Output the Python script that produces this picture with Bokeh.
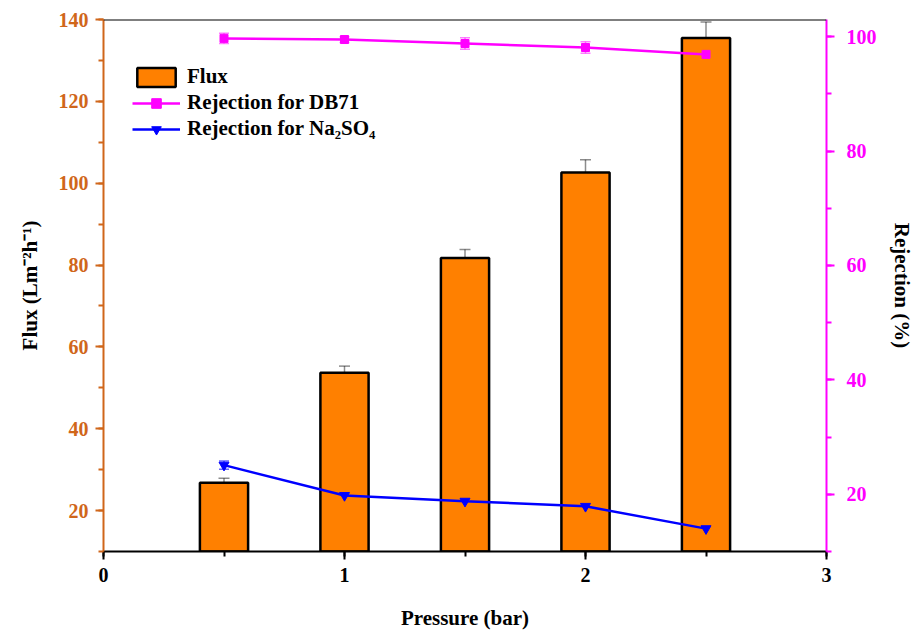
from bokeh.plotting import figure
from bokeh.models import (Range1d, LinearAxis, SingleIntervalTicker, Whisker,
                          ColumnDataSource, TeeHead, Span, Legend, LegendItem)
from bokeh.embed import file_html
from bokeh.resources import INLINE

# Operating pressure (bar)
pressure = [0.5, 1.0, 1.5, 2.0, 2.5]

# Permeate flux (L m^-2 h^-1) and its error
flux = [26.8, 53.7, 81.7, 102.6, 135.5]
flux_err = [1.1, 1.6, 2.1, 3.1, 3.9]

# Rejection (%) of DB71 dye and of Na2SO4
rej_db71 = [99.7, 99.5, 98.8, 98.1, 96.9]
rej_db71_err = [0.9, 0.5, 1.0, 1.0, 0.7]
rej_na2so4 = [25.1, 19.8, 18.8, 17.9, 14.0]
rej_na2so4_err = [0.7, 0.8, 0.3, 0.9, 0.2]

FONT = "Liberation Serif"
ORANGE_AX = "#d0661a"
MAGENTA = "#ff00ff"
BLUE = "#0000ff"

src = ColumnDataSource(dict(
    x=pressure,
    flux=flux,
    flux_lo=[f - e for f, e in zip(flux, flux_err)],
    flux_hi=[f + e for f, e in zip(flux, flux_err)],
    db=rej_db71,
    db_lo=[f - e for f, e in zip(rej_db71, rej_db71_err)],
    db_hi=[f + e for f, e in zip(rej_db71, rej_db71_err)],
    na=rej_na2so4,
    na_lo=[f - e for f, e in zip(rej_na2so4, rej_na2so4_err)],
    na_hi=[f + e for f, e in zip(rej_na2so4, rej_na2so4_err)],
))

p = figure(width=918, height=634, output_backend="svg", toolbar_location=None,
           x_range=Range1d(0, 3), y_range=Range1d(10, 140),
           min_border_left=103, min_border_right=92,
           min_border_top=19, min_border_bottom=83)
p.extra_y_ranges = {"rej": Range1d(10, 103)}
p.outline_line_color = None
p.xgrid.visible = False
p.ygrid.visible = False
p.background_fill_color = "white"

# Flux bars with error bars
bars = p.vbar(x="x", top="flux", bottom=0, width=0.2, source=src,
              fill_color="#ff8000", line_color="black", line_width=2.5)
p.add_layout(Whisker(source=src, base="x", lower="flux_lo", upper="flux_hi",
                     line_color="black", line_alpha=0.45, line_width=1.5,
                     upper_head=TeeHead(size=11, line_color="black", line_alpha=0.45, line_width=1.5),
                     lower_head=TeeHead(size=11, line_color="black", line_alpha=0.45, line_width=1.5)))

# DB71 rejection on the right axis
p.add_layout(Whisker(source=src, base="x", lower="db_lo", upper="db_hi", y_range_name="rej",
                     line_color=MAGENTA, line_alpha=0.5, line_width=1.5,
                     upper_head=TeeHead(size=10, line_color=MAGENTA, line_alpha=0.5, line_width=1.5),
                     lower_head=TeeHead(size=10, line_color=MAGENTA, line_alpha=0.5, line_width=1.5)))
l1 = p.line(x="x", y="db", source=src, y_range_name="rej", line_color=MAGENTA, line_width=2.5)
s1 = p.scatter(x="x", y="db", source=src, y_range_name="rej", marker="square",
               size=8, fill_color=MAGENTA, line_color=MAGENTA)

# Na2SO4 rejection on the right axis
p.add_layout(Whisker(source=src, base="x", lower="na_lo", upper="na_hi", y_range_name="rej",
                     line_color=BLUE, line_alpha=0.6, line_width=1.5,
                     upper_head=TeeHead(size=10, line_color=BLUE, line_alpha=0.6, line_width=1.5),
                     lower_head=TeeHead(size=10, line_color=BLUE, line_alpha=0.6, line_width=1.5)))
l2 = p.line(x="x", y="na", source=src, y_range_name="rej", line_color=BLUE, line_width=2.5)
s2 = p.scatter(x="x", y="na", source=src, y_range_name="rej", marker="inverted_triangle",
               size=10, fill_color=BLUE, line_color=BLUE)

# Top frame line
p.add_layout(Span(location=140, dimension="width", line_color="black", line_width=2))


def style_axis(ax, color, label, standoff, label_standoff):
    ax.axis_label = label
    ax.axis_label_text_font = FONT
    ax.axis_label_text_font_style = "bold"
    ax.axis_label_text_font_size = "21px"
    ax.axis_label_text_color = "black"
    ax.axis_label_standoff = standoff
    ax.major_label_text_font = FONT
    ax.major_label_text_font_style = "bold"
    ax.major_label_text_font_size = "20px"
    ax.major_label_text_color = color
    ax.axis_line_color = color
    ax.axis_line_width = 2
    ax.major_tick_line_color = color
    ax.minor_tick_line_color = color
    ax.major_tick_line_width = 2
    ax.minor_tick_line_width = 2
    ax.major_tick_out = 8
    ax.major_tick_in = 0
    ax.minor_tick_out = 5
    ax.minor_tick_in = 0
    ax.major_label_standoff = label_standoff


# Left axis: flux
yl = p.yaxis[0]
yl.ticker = SingleIntervalTicker(interval=20, num_minor_ticks=2)
style_axis(yl, ORANGE_AX, "Flux (Lm\u207b\u00b2h\u207b\u00b9)", 14, 7)

# Bottom axis: pressure
xa = p.xaxis[0]
xa.ticker = SingleIntervalTicker(interval=1, num_minor_ticks=2)
style_axis(xa, "black", "Pressure (bar)", 21, 8)

# Right axis: rejection
yr = LinearAxis(y_range_name="rej", ticker=SingleIntervalTicker(interval=20, num_minor_ticks=2))
style_axis(yr, MAGENTA, "Rejection (%)", 10, 12)
p.add_layout(yr, "right")

legend = Legend(items=[
    LegendItem(label="Flux", renderers=[bars]),
    LegendItem(label="Rejection for DB71", renderers=[l1, s1]),
    LegendItem(label="Rejection for Na\u2082SO\u2084", renderers=[l2, s2]),
], location=(29, 410))
legend.border_line_color = None
legend.background_fill_alpha = 0
legend.padding = 0
legend.margin = 0
legend.spacing = 1
legend.glyph_width = 48
legend.glyph_height = 24
legend.label_standoff = 7
legend.label_text_font = FONT
legend.label_text_font_style = "bold"
legend.label_text_font_size = "21px"
legend.label_text_color = "black"
p.add_layout(legend)

open("out.html", "w").write(file_html(p, INLINE))
